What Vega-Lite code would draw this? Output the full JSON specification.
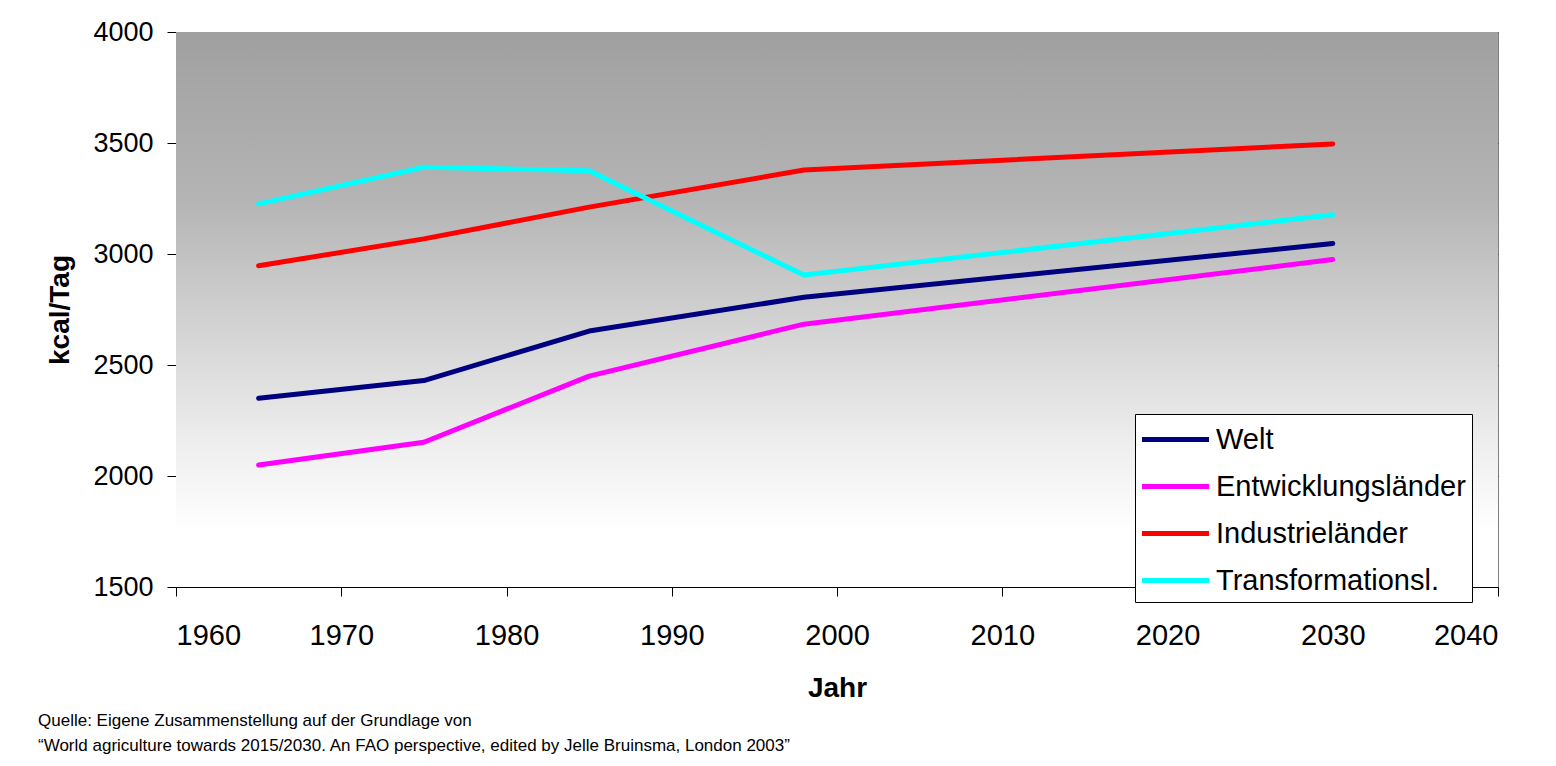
{
  "$schema": "https://vega.github.io/schema/vega-lite/v6.json",
  "autosize": "none",
  "width": 1322,
  "height": 555,
  "padding": {"left": 176, "top": 32, "right": 58, "bottom": 179},
  "background": "white",
  "config": {
    "font": "Liberation Sans",
    "view": {"stroke": "#808080", "strokeWidth": 1}
  },
  "title": {
    "text": ["Quelle: Eigene Zusammenstellung auf der Grundlage von", "“World agriculture towards 2015/2030. An FAO perspective, edited by Jelle Bruinsma, London 2003”"],
    "orient": "bottom",
    "anchor": "start",
    "frame": "group",
    "dx": -138,
    "offset": 11,
    "fontSize": 17,
    "fontWeight": "normal",
    "color": "black",
    "lineHeight": 25,
    "font": "Liberation Sans"
  },
  "data": {
    "values": [
      {"Jahr": 1965, "Region": "Welt", "kcal": 2350},
      {"Jahr": 1975, "Region": "Welt", "kcal": 2430},
      {"Jahr": 1985, "Region": "Welt", "kcal": 2653},
      {"Jahr": 1998, "Region": "Welt", "kcal": 2805},
      {"Jahr": 2030, "Region": "Welt", "kcal": 3047},
      {"Jahr": 1965, "Region": "Entwicklungsländer", "kcal": 2050},
      {"Jahr": 1975, "Region": "Entwicklungsländer", "kcal": 2152},
      {"Jahr": 1985, "Region": "Entwicklungsländer", "kcal": 2450},
      {"Jahr": 1998, "Region": "Entwicklungsländer", "kcal": 2684},
      {"Jahr": 2030, "Region": "Entwicklungsländer", "kcal": 2975},
      {"Jahr": 1965, "Region": "Industrieländer", "kcal": 2947},
      {"Jahr": 1975, "Region": "Industrieländer", "kcal": 3068},
      {"Jahr": 1985, "Region": "Industrieländer", "kcal": 3211},
      {"Jahr": 1998, "Region": "Industrieländer", "kcal": 3378},
      {"Jahr": 2030, "Region": "Industrieländer", "kcal": 3496},
      {"Jahr": 1965, "Region": "Transformationsl.", "kcal": 3226},
      {"Jahr": 1975, "Region": "Transformationsl.", "kcal": 3391},
      {"Jahr": 1985, "Region": "Transformationsl.", "kcal": 3375},
      {"Jahr": 1998, "Region": "Transformationsl.", "kcal": 2905},
      {"Jahr": 2030, "Region": "Transformationsl.", "kcal": 3177}
    ]
  },
  "layer": [
    {
      "mark": {
        "type": "rect",
        "color": {
          "gradient": "linear",
          "x1": 0, "y1": 0, "x2": 0, "y2": 1,
          "stops": [
            {"offset": 0, "color": "#a0a0a0"},
            {"offset": 0.3, "color": "#b4b4b4"},
            {"offset": 0.5, "color": "#cfcfcf"},
            {"offset": 0.75, "color": "#efefef"},
            {"offset": 0.9, "color": "#ffffff"},
            {"offset": 1, "color": "#ffffff"}
          ]
        }
      },
      "encoding": {
        "x": {"datum": 1960, "type": "quantitative"},
        "x2": {"datum": 2040},
        "y": {"datum": 4000, "type": "quantitative"},
        "y2": {"datum": 1500}
      }
    },
    {
      "mark": {"type": "line", "strokeWidth": 5, "strokeCap": "round", "strokeJoin": "round"},
      "encoding": {
        "x": {
          "field": "Jahr",
          "type": "quantitative",
          "scale": {"domain": [1960, 2040], "nice": false, "zero": false},
          "axis": {
            "title": "Jahr",
            "values": [1960, 1970, 1980, 1990, 2000, 2010, 2020, 2030, 2040],
            "format": "d",
            "grid": false,
            "domainColor": "#000000",
            "tickColor": "#000000",
            "tickSize": 9,
            "labelFontSize": 29,
            "labelColor": "black",
            "labelPadding": 25,
            "titleFontSize": 28,
            "titleFontWeight": "bold",
            "titleColor": "black",
            "titlePadding": 24
          }
        },
        "y": {
          "field": "kcal",
          "type": "quantitative",
          "scale": {"domain": [1500, 4000], "nice": false, "zero": false},
          "axis": {
            "title": "kcal/Tag",
            "values": [1500, 2000, 2500, 3000, 3500, 4000],
            "format": "d",
            "grid": true,
            "gridColor": "#333333",
            "gridWidth": 1,
            "gridOpacity": 1,
            "domainColor": "#000000",
            "tickColor": "#000000",
            "tickSize": 9,
            "labelFontSize": 27,
            "labelColor": "black",
            "labelPadding": 14,
            "titleFontSize": 28,
            "titleFontWeight": "bold",
            "titleColor": "black",
            "titlePadding": 18
          }
        },
        "color": {
          "field": "Region",
          "type": "nominal",
          "scale": {
            "domain": ["Welt", "Entwicklungsländer", "Industrieländer", "Transformationsl."],
            "range": ["#000080", "#ff00ff", "#ff0000", "#00ffff"]
          },
          "legend": {
            "title": null,
            "orient": "none",
            "legendX": 959,
            "legendY": 382,
            "fillColor": "white",
            "strokeColor": "black",
            "padding": 6,
            "symbolType": "M-2,0H2",
            "symbolSize": 1122,
            "symbolStrokeWidth": 5,
            "symbolOffset": 15,
            "labelFontSize": 29,
            "labelColor": "black",
            "labelOffset": 21,
            "rowPadding": 12,
            "labelLimit": 400
          }
        }
      }
    }
  ]
}
